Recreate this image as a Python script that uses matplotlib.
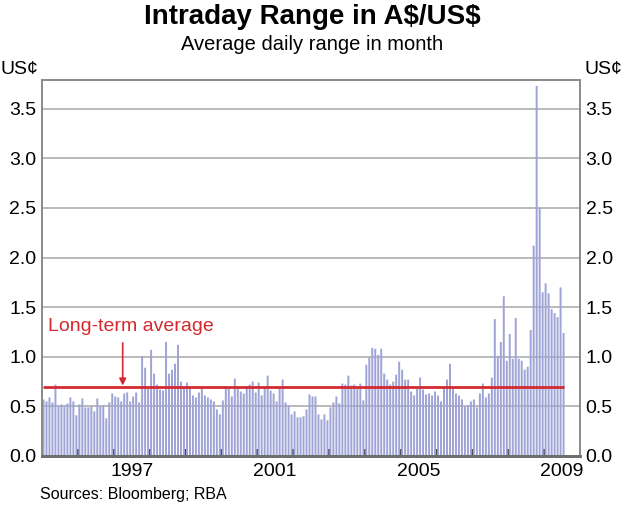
import matplotlib
matplotlib.use("Agg")
import matplotlib.pyplot as plt
import numpy as np

plt.rcParams['font.family'] = ['Liberation Sans', 'DejaVu Sans']

# Monthly average daily range (US cents), Jan 1995 - Jul 2009
start_year = 1995
values = [
    # 1995
    0.57, 0.55, 0.59, 0.54, 0.72, 0.50, 0.52, 0.51, 0.53, 0.59, 0.55, 0.41,
    # 1996
    0.52, 0.58, 0.49, 0.49, 0.50, 0.45, 0.58, 0.50, 0.51, 0.38, 0.54, 0.63,
    # 1997
    0.60, 0.59, 0.55, 0.63, 0.64, 0.55, 0.60, 0.64, 0.54, 1.01, 0.89, 0.68,
    # 1998
    1.07, 0.83, 0.72, 0.67, 0.66, 1.15, 0.83, 0.87, 0.93, 1.12, 0.75, 0.69,
    # 1999
    0.74, 0.69, 0.61, 0.59, 0.64, 0.69, 0.61, 0.59, 0.57, 0.55, 0.47, 0.42,
    # 2000
    0.56, 0.70, 0.68, 0.60, 0.78, 0.69, 0.65, 0.63, 0.69, 0.72, 0.75, 0.64,
    # 2001
    0.74, 0.61, 0.70, 0.81, 0.66, 0.63, 0.55, 0.69, 0.77, 0.54, 0.51, 0.42,
    # 2002
    0.45, 0.39, 0.39, 0.40, 0.47, 0.62, 0.60, 0.60, 0.42, 0.37, 0.42, 0.36,
    # 2003
    0.49, 0.54, 0.60, 0.53, 0.73, 0.72, 0.81, 0.71, 0.72, 0.68, 0.73, 0.56,
    # 2004
    0.92, 0.99, 1.09, 1.08, 1.02, 1.08, 0.83, 0.77, 0.72, 0.75, 0.82, 0.95,
    # 2005
    0.87, 0.77, 0.77, 0.65, 0.61, 0.69, 0.79, 0.67, 0.62, 0.63, 0.61, 0.65,
    # 2006
    0.61, 0.55, 0.69, 0.77, 0.93, 0.69, 0.63, 0.61, 0.57, 0.50, 0.51, 0.55,
    # 2007
    0.57, 0.49, 0.63, 0.73, 0.59, 0.63, 0.79, 1.38, 1.01, 1.15, 1.61, 0.96,
    # 2008
    1.23, 0.98, 1.39, 0.98, 0.96, 0.87, 0.90, 1.27, 2.12, 3.73, 2.50, 1.65,
    # 2009
    1.74, 1.64, 1.48, 1.44, 1.40, 1.70, 1.24,
]
long_term_average = 0.70
year_labels = ['1997', '2001', '2005', '2009']
y_ticks = [0.0, 0.5, 1.0, 1.5, 2.0, 2.5, 3.0, 3.5]

W, H = 625, 508
fig = plt.figure(figsize=(W / 100, H / 100), dpi=100)
ax_l, ax_r, ax_t, ax_b = 42, 580, 80, 456
ax = fig.add_axes([ax_l / W, 1 - ax_b / H, (ax_r - ax_l) / W, (ax_b - ax_t) / H])

n = len(values)
x = start_year + (np.arange(n) + 0.5) / 12.0
bars = ax.bar(x, values, width=0.66 / 12, color='#9fa4d6', edgecolor='none',
              zorder=2)
for b in bars:
    b.set_snap(False)

ax.set_xlim(1995, 2010)
ax.set_ylim(0, 3.79)

# gridlines
for yv in y_ticks[1:]:
    ax.axhline(yv, color='#b4b4b4', lw=1.3, zorder=1)

# long-term average line
ax.plot([x[0] - 0.3 / 12, x[-1] + 0.3 / 12], [long_term_average] * 2,
        color='#d42a2f', lw=2, zorder=3, solid_capstyle='butt')
ax.annotate('', xy=(1997.25, long_term_average + 0.01), xytext=(1997.25, 1.14),
            arrowprops=dict(arrowstyle='-|>', color='#d42a2f', lw=1.2,
                            mutation_scale=10, shrinkA=0, shrinkB=0), zorder=4)
ax.text(1995.17, 1.31, 'Long-term average', color='#d42a2f', fontsize=14,
        ha='left', va='center')

# x ticks: year boundaries as tick marks, labels at mid-year
ax.set_xticks(np.arange(1996, 2010))
ax.set_xticklabels([])
ax.tick_params(axis='x', which='major', direction='in', length=5, width=1.3,
               color='#333333')
ax.set_xticks([int(y) + 0.5 for y in year_labels], minor=True)
ax.set_xticklabels(year_labels, minor=True)
ax.tick_params(axis='x', which='minor', length=0, labelsize=14, pad=5)

ax.set_yticks(y_ticks)
ax.set_yticklabels([f'{v:.1f}' for v in y_ticks])
ax.tick_params(axis='y', length=0, labelsize=14, pad=4)

ax2 = ax.twinx()
ax2.set_ylim(ax.get_ylim())
ax2.set_yticks(y_ticks)
ax2.set_yticklabels([f'{v:.1f}' for v in y_ticks])
ax2.tick_params(axis='y', length=0, labelsize=14, pad=4)

for a in (ax, ax2):
    for s in ['left', 'right', 'top']:
        a.spines[s].set_color('#8a8a8a')
        a.spines[s].set_linewidth(1.2)
    a.spines['bottom'].set_color('#6e6e6e')
    a.spines['bottom'].set_linewidth(2)

fig.text(0.5, 1 - 17 / H, 'Intraday Range in A\\$/US\\$', ha='center', va='center',
         fontsize=20, fontweight='bold')
fig.text(0.5, 1 - 44 / H, 'Average daily range in month', ha='center', va='center',
         fontsize=14.5)
fig.text(0 / W, 1 - 69 / H, 'US¢', ha='left', va='center', fontsize=14)
fig.text(584 / W, 1 - 69 / H, 'US¢', ha='left', va='center', fontsize=14)
fig.text(40 / W, 1 - 495 / H, 'Sources: Bloomberg; RBA', ha='left', va='center',
         fontsize=11.5)

fig.savefig('out.png', dpi=100)
